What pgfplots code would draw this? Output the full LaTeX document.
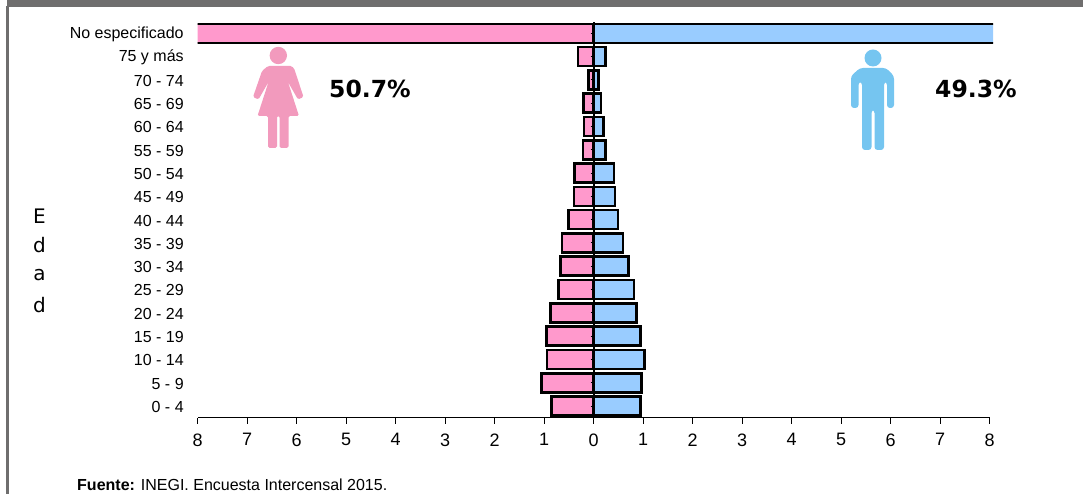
\documentclass[border=0pt]{standalone}
\usepackage{fontspec}
\setmainfont{Liberation Sans}
\newfontfamily\dejavu{DejaVu Sans}
\usepackage{pgfplots}
\pgfplotsset{compat=1.18}
\definecolor{mujer}{HTML}{FF99CC}
\definecolor{hombre}{HTML}{99CCFF}
\definecolor{icomujer}{HTML}{F29ABD}
\definecolor{icohombre}{HTML}{75C5F0}
\definecolor{marco}{HTML}{6F6E6E}
\begin{document}
\begin{tikzpicture}[x=1pt,y=1pt]
\path[use as bounding box] (0,0) rectangle (1083,494);
% marco
\fill[marco] (7,486.5) rectangle (1083,494);
\fill[marco] (6,0) rectangle (8.5,488);
% barras
\begin{axis}[
  at={(197.7pt,76.3pt)}, anchor=south west,
  scale only axis, width=795.5pt, height=396pt,
  xmin=-8, xmax=8.07, ymin=-0.5, ymax=16.5,
  axis x line=none, axis y line*=left,
  y axis line style={draw=none},
  xtick=\empty,
  ytick={0,...,16},
  yticklabels={0 - 4,5 - 9,10 - 14,15 - 19,20 - 24,25 - 29,30 - 34,35 - 39,40 - 44,45 - 49,50 - 54,55 - 59,60 - 64,65 - 69,70 - 74,75 y más,No especificado},
  ytick style={draw=none},
  major tick length=0pt,
  yticklabel style={font=\fontsize{16}{18}\selectfont, anchor=east, xshift=-10.5pt, yshift=-0.8pt},
  xbar, bar shift=0pt, bar width=19pt,
]
\addplot[fill=mujer, draw=black, line width=2.6pt] coordinates {
  (-0.85,0) (-1.06,1) (-0.94,2) (-0.955,3) (-0.87,4) (-0.71,5) (-0.67,6) (-0.64,7)
  (-0.505,8) (-0.40,9) (-0.385,10) (-0.22,11) (-0.20,12) (-0.21,13) (-0.10,14) (-0.32,15) (-8.5,16)
};
\addplot[fill=hombre, draw=black, line width=2.6pt] coordinates {
  (0.94,0) (0.97,1) (1.02,2) (0.95,3) (0.86,4) (0.81,5) (0.70,6) (0.59,7)
  (0.49,8) (0.43,9) (0.41,10) (0.235,11) (0.195,12) (0.145,13) (0.10,14) (0.235,15) (8.5,16)
};
\end{axis}
% ejes
\begin{axis}[
  at={(197.7pt,76.3pt)}, anchor=south west,
  scale only axis, width=792pt, height=396pt,
  xmin=-8, xmax=8, ymin=-0.5, ymax=16.5,
  axis x line=bottom, axis y line=center,
  axis line style={-},
  x axis line style={line width=1pt},
  y axis line style={line width=1.6pt},
  xtick={-8,...,8},
  xticklabels={8,7,6,5,4,3,2,1,0,1,2,3,4,5,6,7,8},
  xticklabel style={font=\fontsize{18}{20}\selectfont, yshift=-8pt},
  xtick style={black, line width=1pt, /pgfplots/major tick length=6pt},
  x tick label as interval=false,
  xtick align=outside,
  ytick={0,...,16}, yticklabels={},
  ytick style={black, line width=1pt, /pgfplots/major tick length=3pt},
  ytick align=outside,
  /pgf/number format/assume math mode=true,
]
\end{axis}
% mujer
\fill[icomujer] (278.3,438.5) circle (8.7);
\fill[icomujer, rounded corners=1.5pt]
  (268,428) -- (289,428) to[out=0,in=110] (295,423) -- (303.5,397) -- (298,394.5) -- (288,412) -- (299,378) -- (288.5,378) -- (288.5,346) -- (279.5,346) -- (279.5,378) -- (277,378) -- (277,346) -- (268,346) -- (268,378) -- (257.5,378) -- (268.5,412) -- (258.5,394.5) -- (253,397) -- (262,423) -- cycle;
% hombre
\fill[icohombre] (873,436) circle (8.5);
\fill[icohombre, rounded corners=3pt]
  (860,426) -- (886,426) -- (894,418) -- (894,386) -- (887,386) -- (887,412) -- (884,412) -- (884,344) -- (874.5,344) -- (874.5,384) -- (871.5,384) -- (871.5,344) -- (862,344) -- (862,412) -- (858.5,412) -- (858.5,386) -- (851,386) -- (851,418) -- cycle;
% textos
\node[anchor=west, inner sep=0pt, font=\dejavu\bfseries\fontsize{23.5}{26}\selectfont] at (329,405) {50.7\%};
\node[anchor=west, inner sep=0pt, font=\dejavu\bfseries\fontsize{23.5}{26}\selectfont] at (935,405) {49.3\%};
\foreach \l/\y in {E/278,d/249,a/219,d/189}
  \node[font=\dejavu\fontsize{20}{22}\selectfont, inner sep=0pt] at (39.5,\y) {\l};
\node[anchor=base west, inner sep=0pt, font=\fontsize{16}{18}\selectfont] at (77,3.2) {\textbf{Fuente:} INEGI. Encuesta Intercensal 2015.};
\end{tikzpicture}
\end{document}
